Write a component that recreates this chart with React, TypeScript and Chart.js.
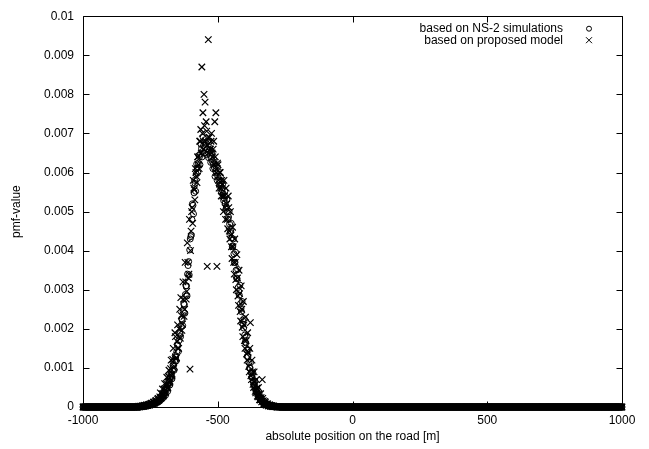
import React, { useEffect, useRef } from "react";
import { Chart, registerables } from "chart.js";

Chart.register(...registerables);

// ---- data ----
const xTicks = [-1000, -500, 0, 500, 1000];
const yTicks = [0, 0.001, 0.002, 0.003, 0.004, 0.005, 0.006, 0.007, 0.008, 0.009, 0.01];

const seriesLabels = ["based on NS-2 simulations", "based on proposed model"];

const positionStep = 4; // metres between consecutive values of one array
const tailStep = 2; // metres between the zero-valued points outside the peak
const tailValue = 0; // pmf value read everywhere outside the peak
const xMin = -1000;
const xMax = 1000;

// NS-2 simulation pmf, positions -800, -796, ... , -240
const simStartA = -800;
const simValuesA = [
  0, 0, 0, 0.00001, 0.00001, 0.00001, 0.00002, 0.00002, 0.00003, 0.00003,
  0.00003, 0.00004, 0.00005, 0.00006, 0.00007, 0.00007, 0.00009, 0.0001, 0.00012, 0.00013,
  0.00015, 0.00018, 0.0002, 0.00024, 0.00027, 0.00031, 0.00036, 0.00042, 0.00048, 0.00056,
  0.00064, 0.00072, 0.00082, 0.00094, 0.00106, 0.00118, 0.00128, 0.00142, 0.00158, 0.0017,
  0.00188, 0.00206, 0.00224, 0.00244, 0.00262, 0.00288, 0.0031, 0.0034, 0.00372, 0.00402,
  0.00436, 0.0048, 0.00516, 0.00548, 0.00572, 0.00596, 0.00612, 0.00624, 0.0064, 0.00648,
  0.00662, 0.00654, 0.0067, 0.00664, 0.00676, 0.0066, 0.00652, 0.00656, 0.00644, 0.00636,
  0.00628, 0.00622, 0.00612, 0.00604, 0.00598, 0.0059, 0.00582, 0.00574, 0.00566, 0.00556,
  0.00546, 0.00534, 0.00522, 0.00512, 0.00498, 0.00486, 0.00468, 0.0045, 0.00432, 0.00412,
  0.00392, 0.0037, 0.0035, 0.00328, 0.00306, 0.00286, 0.00264, 0.00244, 0.00222, 0.00202,
  0.00184, 0.00164, 0.00146, 0.00128, 0.00114, 0.001, 0.00088, 0.00076, 0.00064, 0.00054,
  0.00045, 0.00038, 0.00031, 0.00026, 0.00021, 0.00017, 0.00014, 0.00011, 0.00009, 0.00008,
  0.00006, 0.00005, 0.00004, 0.00004, 0.00003, 0.00003, 0.00002, 0.00002, 0.00002, 0.00001,
  0.00001, 0.00001, 0.00001, 0, 0, 0, 0, 0, 0, 0,
  0,
];

// NS-2 simulation pmf, positions -798, -794, ... , -238
const simStartB = -798;
const simValuesB = [
  0, 0.00001, 0, 0.00002, 0.00001, 0.00002, 0.00003, 0.00002, 0.00004, 0.00003,
  0.00005, 0.00004, 0.00006, 0.00008, 0.00006, 0.0001, 0.00008, 0.00013, 0.00011, 0.00016,
  0.00014, 0.00022, 0.00019, 0.00029, 0.00024, 0.00038, 0.0003, 0.0005, 0.0004, 0.00066,
  0.00056, 0.00084, 0.00072, 0.00108, 0.00094, 0.00132, 0.00118, 0.0016, 0.00142, 0.0019,
  0.0018, 0.00226, 0.00208, 0.00264, 0.0024, 0.0031, 0.00284, 0.00362, 0.00338, 0.0043,
  0.0044, 0.0052, 0.00494, 0.0058, 0.00552, 0.00622, 0.006, 0.00644, 0.0062, 0.00672,
  0.0064, 0.0069, 0.0065, 0.00684, 0.00646, 0.0068, 0.00638, 0.00664, 0.00626, 0.0065,
  0.0061, 0.00632, 0.0059, 0.00616, 0.0058, 0.00604, 0.00566, 0.0059, 0.00548, 0.0057,
  0.00528, 0.00552, 0.00506, 0.0053, 0.0048, 0.005, 0.00446, 0.0047, 0.0041, 0.0043,
  0.0037, 0.00396, 0.0033, 0.00352, 0.00296, 0.00312, 0.00252, 0.0027, 0.00212, 0.00226,
  0.00166, 0.0018, 0.0013, 0.00146, 0.001, 0.00114, 0.00076, 0.00088, 0.00056, 0.00066,
  0.00038, 0.00046, 0.00026, 0.00032, 0.00018, 0.00022, 0.00011, 0.00015, 0.00007, 0.0001,
  0.00005, 0.00007, 0.00003, 0.00005, 0.00002, 0.00004, 0.00001, 0.00003, 0.00001, 0.00002,
  0, 0.00001, 0, 0.00001, 0, 0, 0, 0, 0, 0,
  0,
];

// proposed model pmf, positions -799, -795, ... , -239
const modelStartA = -799;
const modelValuesA = [
  0, 0.00001, 0, 0.00002, 0.00001, 0.00003, 0.00002, 0.00004, 0.00003, 0.00005,
  0.00004, 0.00007, 0.00006, 0.00009, 0.00008, 0.00012, 0.0001, 0.00015, 0.00013, 0.0002,
  0.00017, 0.00026, 0.00022, 0.00034, 0.00028, 0.00046, 0.00036, 0.0006, 0.00048, 0.00078,
  0.00062, 0.00098, 0.0008, 0.00122, 0.001, 0.0019, 0.00124, 0.00168, 0.0015, 0.002,
  0.00176, 0.00234, 0.00212, 0.00276, 0.0025, 0.0032, 0.00296, 0.0037, 0.0034, 0.00097,
  0.0045, 0.0051, 0.0058, 0.00556, 0.0061, 0.0059, 0.0064, 0.0062, 0.0068, 0.0071,
  0.0087, 0.00753, 0.008, 0.0078, 0.0073, 0.0036, 0.0094, 0.0069, 0.0066, 0.007,
  0.0064, 0.0068, 0.0073, 0.00753, 0.0036, 0.0062, 0.0056, 0.006, 0.0054, 0.0057,
  0.005, 0.0054, 0.0048, 0.0052, 0.00456, 0.0051, 0.0043, 0.0044, 0.0038, 0.0041,
  0.0034, 0.0037, 0.003, 0.0033, 0.0026, 0.0029, 0.0022, 0.0025, 0.0018, 0.0021,
  0.0015, 0.0017, 0.0012, 0.0014, 0.0009, 0.00216, 0.0007, 0.0009, 0.0005, 0.00066,
  0.00036, 0.00048, 0.00026, 0.00034, 0.00018, 0.00024, 0.0007, 0.00016, 0.00008, 0.00011,
  0.00005, 0.00008, 0.00003, 0.00005, 0.00002, 0.00003, 0.00001, 0.00002, 0.00001, 0.00001,
  0, 0.00001, 0, 0, 0, 0, 0, 0, 0, 0,
  0,
];

// proposed model pmf, positions -797, -793, ... , -237
const modelStartB = -797;
const modelValuesB = [
  0, 0.00002, 0.00001, 0.00001, 0.00003, 0.00002, 0.00004, 0.00003, 0.00005, 0.00004,
  0.00006, 0.00005, 0.00008, 0.0001, 0.00008, 0.00013, 0.00011, 0.00017, 0.00014, 0.00022,
  0.00019, 0.00036, 0.00024, 0.00046, 0.0003, 0.0006, 0.00038, 0.00076, 0.0005, 0.00094,
  0.00066, 0.0012, 0.00084, 0.0015, 0.00104, 0.0018, 0.00126, 0.0021, 0.0015, 0.0025,
  0.0028, 0.00196, 0.0032, 0.00232, 0.0037, 0.00276, 0.0042, 0.0033, 0.0048, 0.004,
  0.005, 0.0047, 0.0056, 0.0053, 0.006, 0.00574, 0.0064, 0.0061, 0.0068, 0.0065,
  0.007, 0.0066, 0.0072, 0.0068, 0.00706, 0.0067, 0.0069, 0.0066, 0.0068, 0.0065,
  0.0066, 0.0062, 0.0064, 0.006, 0.00624, 0.0058, 0.006, 0.0056, 0.0058, 0.0054,
  0.0058, 0.0051, 0.0056, 0.0048, 0.0054, 0.0045, 0.005, 0.0041, 0.0046, 0.0037,
  0.0043, 0.00326, 0.0039, 0.00284, 0.0035, 0.00244, 0.0031, 0.00204, 0.0027, 0.0017,
  0.0023, 0.00136, 0.0019, 0.00104, 0.0015, 0.0008, 0.0012, 0.00058, 0.0009, 0.0004,
  0.0007, 0.00028, 0.0005, 0.00019, 0.00034, 0.00013, 0.00022, 0.00008, 0.00014, 0.00005,
  0.00008, 0.00003, 0.00005, 0.00002, 0.00003, 0.00001, 0.00002, 0.00001, 0.00001, 0,
  0, 0, 0.00001, 0, 0, 0, 0, 0, 0, 0,
  0,
];

type Pt = { x: number; y: number };

function buildPoints(parts: [number, number[]][]) {
  const pts: Pt[] = [];
  let lo = Infinity;
  let hi = -Infinity;
  parts.forEach(([start, values]) => {
    values.forEach((v, i) => pts.push({ x: start + i * positionStep, y: v }));
    lo = Math.min(lo, start);
    hi = Math.max(hi, start + (values.length - 1) * positionStep);
  });
  for (let x = xMin; x < lo; x += tailStep) pts.push({ x, y: tailValue });
  for (let x = xMax; x > hi; x -= tailStep) pts.push({ x, y: tailValue });
  return pts;
}

const FONT = "'Liberation Sans', Arial, Helvetica, sans-serif";

const framePlugin = {
  id: "gnuFrame",
  beforeDatasetsDraw(chart: any) {
    const { ctx, chartArea: a, scales } = chart;
    ctx.save();
    ctx.strokeStyle = "#000";
    ctx.lineWidth = 1;
    const L = Math.round(a.left) + 0.5;
    const R = Math.round(a.right) + 0.5;
    const T = Math.round(a.top) + 0.5;
    const B = Math.round(a.bottom) + 0.5;
    ctx.beginPath();
    ctx.rect(L, T, R - L, B - T);
    const tl = 6;
    xTicks.forEach((v) => {
      const px = Math.round(scales.x.getPixelForValue(v)) + 0.5;
      ctx.moveTo(px, B);
      ctx.lineTo(px, B - tl);
      ctx.moveTo(px, T);
      ctx.lineTo(px, T + tl);
    });
    yTicks.forEach((v) => {
      const py = Math.round(scales.y.getPixelForValue(v)) + 0.5;
      ctx.moveTo(L, py);
      ctx.lineTo(L + tl, py);
      ctx.moveTo(R, py);
      ctx.lineTo(R - tl, py);
    });
    ctx.stroke();
    ctx.restore();
  },
  afterDraw(chart: any) {
    const { ctx, chartArea: a } = chart;
    ctx.save();
    ctx.fillStyle = "#000";
    ctx.strokeStyle = "#000";
    ctx.lineWidth = 1;
    ctx.font = `12px ${FONT}`;
    ctx.textAlign = "right";
    ctx.textBaseline = "middle";
    const textRight = a.right - 59;
    const markX = a.right - 33;
    const y1 = a.top + 12.5;
    const y2 = a.top + 24;
    ctx.fillText(seriesLabels[0], textRight, y1);
    ctx.fillText(seriesLabels[1], textRight, y2);
    ctx.beginPath();
    ctx.arc(markX, y1, 2.5, 0, Math.PI * 2);
    ctx.stroke();
    ctx.beginPath();
    ctx.moveTo(markX - 3, y2 - 3);
    ctx.lineTo(markX + 3, y2 + 3);
    ctx.moveTo(markX + 3, y2 - 3);
    ctx.lineTo(markX - 3, y2 + 3);
    ctx.stroke();
    ctx.restore();
  },
};

export default function App() {
  const ref = useRef<HTMLCanvasElement | null>(null);

  useEffect(() => {
    if (!ref.current) return;
    Chart.defaults.font.family = FONT;
    Chart.defaults.font.size = 12;
    Chart.defaults.color = "#000";
    const chart = new Chart(ref.current, {
      type: "scatter",
      data: {
        datasets: [
          {
            label: seriesLabels[0],
            data: buildPoints([
              [simStartA, simValuesA],
              [simStartB, simValuesB],
            ]),
            pointStyle: "circle",
            pointRadius: 3,
            pointBorderWidth: 1,
            borderColor: "#000",
            backgroundColor: "rgba(0,0,0,0)",
            clip: false,
          },
          {
            label: seriesLabels[1],
            data: buildPoints([
              [modelStartA, modelValuesA],
              [modelStartB, modelValuesB],
            ]),
            pointStyle: "crossRot",
            pointRadius: 4.6,
            pointBorderWidth: 1.2,
            borderColor: "#000",
            backgroundColor: "#000",
            clip: false,
          },
        ],
      },
      options: {
        responsive: false,
        animation: false,
        events: [],
        layout: { padding: { left: 0, right: 27, top: 13, bottom: 0 } },
        plugins: {
          legend: { display: false },
          tooltip: { enabled: false },
        },
        scales: {
          x: {
            type: "linear",
            min: xMin,
            max: xMax,
            grid: { display: false, drawTicks: false },
            border: { display: false },
            afterBuildTicks: (s: any) => {
              s.ticks = xTicks.map((v) => ({ value: v }));
            },
            afterFit: (s: any) => {
              s.height = 42;
            },
            ticks: {
              padding: 6,
              maxRotation: 0,
              autoSkip: false,
              callback: (v: any) => String(v),
            },
            title: {
              display: true,
              text: "absolute position on the road [m]",
              font: { size: 12 },
              padding: { top: 0, bottom: 5 },
            },
          },
          y: {
            type: "linear",
            min: 0,
            max: 0.01,
            grid: { display: false, drawTicks: false },
            border: { display: false },
            afterBuildTicks: (s: any) => {
              s.ticks = yTicks.map((v) => ({ value: v }));
            },
            afterFit: (s: any) => {
              s.width = 83;
            },
            ticks: {
              padding: 9,
              autoSkip: false,
              callback: (v: any) => String(v),
            },
            title: {
              display: true,
              text: "pmf-value",
              font: { size: 12 },
              padding: { top: 9, bottom: 0 },
            },
          },
        },
      },
      plugins: [framePlugin],
    });
    return () => chart.destroy();
  }, []);

  return (
    <div style={{ position: "fixed", left: 0, top: 0, width: 649, height: 449, background: "#fff" }}>
      <canvas ref={ref} width={649} height={449} />
    </div>
  );
}
